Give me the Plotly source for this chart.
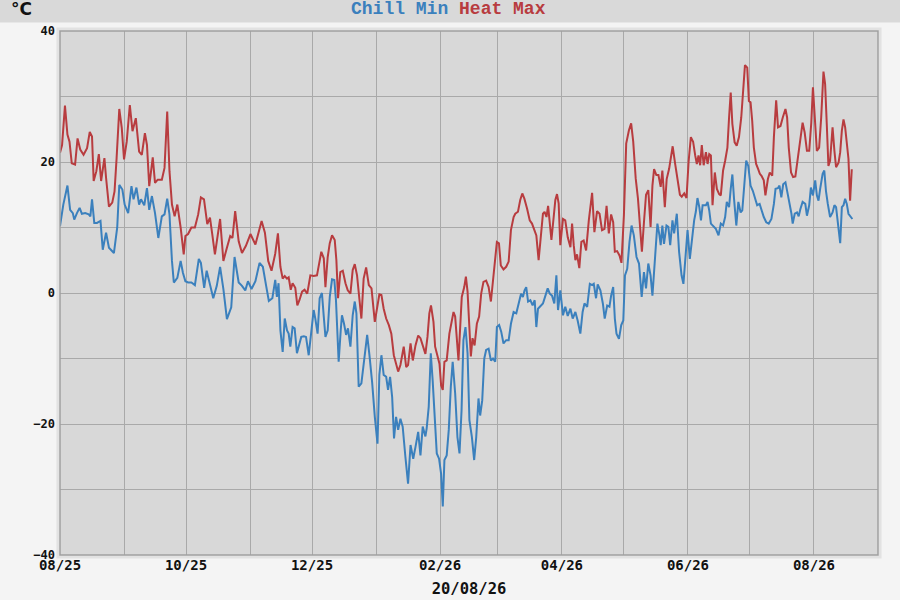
import pandas as pd
import plotly.graph_objects as go

# Day offsets from 1 Aug 2025
start = pd.Timestamp("2025-08-01")

heat_days = [
    0, 1.0, 2.4, 3.6, 4.6, 5.7, 7.3, 8.5, 9.8, 11.4, 13.1, 14.4, 15.5, 16.3, 17.6, 18.8, 19.9,
    21.5, 22.3, 23.7, 25.3, 26.4, 27.4, 28.7, 29.9, 31.0, 32.3, 33.8, 35.1, 36.7, 38.3, 39.6,
    41.1, 42.1, 43.2, 44.9, 46.0, 47.3, 49.3, 50.6, 51.9, 53.0, 54.2, 55.5, 56.8, 58.4, 59.9,
    60.7, 62.0, 63.6, 65.3, 66.9, 68.2, 69.7, 71.3, 72.6, 73.7, 75.0, 77.5, 79.1, 80.8, 82.4,
    83.5, 84.8, 86.5, 88.1, 90.0, 92.2, 94.6, 97.6, 99.2, 100.8, 102.4,
    104.2, 105.5, 106.7, 107.8, 108.8, 109.9, 110.7, 111.7, 112.6, 113.9, 114.9, 115.9, 117.2,
    118.4, 119.7, 121.2, 122.8, 124.4, 125.6, 126.5, 127.7, 128.5, 129.6, 130.6, 131.7, 133.0,
    133.8, 134.6, 135.7, 136.9, 138.2, 139.3, 140.6, 141.7, 142.7, 143.8, 144.9, 145.9, 147.0,
    148.2, 149.5, 150.8, 152.4, 153.5, 154.6, 155.6, 156.7, 157.9, 159.2, 160.4, 161.6, 162.7,
    163.7, 164.8, 166.4, 167.6, 168.5, 169.7, 170.8, 172.1, 173.4, 174.5, 175.6, 176.9,
    177.9, 178.8, 179.6, 180.8, 181.6, 182.7, 183.7, 184.5, 185.3, 186.1, 187.2, 188.5, 189.7,
    190.5, 191.3, 192.1, 192.9, 193.7, 194.5, 195.7, 196.5, 197.3, 198.2, 198.9, 199.7, 200.7,
    201.8, 202.9, 203.9, 205.0, 206.3, 207.5, 208.6, 209.6, 210.7, 211.5, 212.5, 213.4, 214.7,
    216.0, 217.2, 218.3, 219.6, 220.4, 221.7, 222.8, 223.8, 224.8, 226.1, 227.4, 228.5, 229.6,
    230.6, 231.7, 232.9, 233.8, 234.6, 235.5, 236.3, 237.1, 237.9, 239.0, 239.8, 240.6, 241.4,
    242.2, 243.5, 244.6, 245.8, 247.1, 247.9, 248.7, 249.5, 250.3, 251.4, 252.4, 253.5, 254.7,
    256.0, 257.6, 258.7, 260.0, 261.2, 262.4, 263.6, 264.6, 265.7, 266.8, 267.8, 268.6, 269.7,
    270.9, 271.8, 273.0, 274.1, 275.4, 276.5, 277.5, 278.7, 279.8, 280.8, 281.7, 282.7, 283.7,
    284.8, 285.9, 286.8, 287.6, 288.7, 289.7, 290.8, 291.6, 292.8, 293.7, 294.9, 295.7, 296.6,
    297.8, 298.9, 300.1, 301.0, 302.2, 303.3, 304.3, 305.4, 306.5, 307.5, 308.3, 309.1, 309.9,
    310.7, 311.6,
    312.7, 313.5, 314.3, 315.1, 315.9, 317.0, 318.0, 319.1, 319.9, 321.0, 322.0, 323.1, 323.9,
    324.7, 325.5, 326.6, 327.6, 328.7, 329.8, 330.8, 331.6, 332.7, 333.5, 334.3, 335.1, 335.9,
    337.0, 338.0, 338.8, 339.6, 340.7, 341.5, 342.7, 343.6, 344.8, 345.6, 346.7, 347.6, 348.8,
    349.9, 351.2, 352.0, 352.8, 353.9, 354.9, 356.0, 357.1, 358.4, 359.5, 360.5, 361.6, 362.7,
    363.7, 364.5, 365.3, 366.4, 367.5, 368.5, 369.6, 370.4, 371.2, 372.0, 372.8, 374.0, 374.9,
    375.7, 376.9, 377.7, 378.5, 379.3, 380.1, 380.9, 381.7, 382.5, 383.3,
]
heat_max = [
    21.4, 22.6, 28.6, 24.2, 23.1, 19.8, 19.6, 23.6, 21.9, 21.1, 22.1, 24.6, 23.9, 17.1, 18.6, 21.2, 17.1,
    20.6, 17.6, 13.2, 13.8, 15.5, 20.6, 28.1, 25.2, 20.4, 23.1, 28.7, 24.7, 26.7, 21.6, 21.1,
    24.4, 22.6, 16.3, 20.7, 16.8, 17.3, 17.3, 19.1, 27.7, 18.6, 13.5, 11.7, 13.5, 10.0, 5.9,
    8.7, 9.0, 10.0, 10.0, 12.0, 14.6, 14.3, 10.5, 11.5, 9.0, 5.9, 11.3, 4.9, 6.9, 8.7,
    8.4, 12.5, 7.9, 6.1, 7.2, 9.0, 7.4, 11.0, 9.2, 4.9, 3.4,
    6.0, 9.1, 4.0, 2.2, 2.6, 2.2, 2.4, 0.5, 1.5, 0.8, -1.9, -1.1, 0.2,
    0.5, -0.1, 2.7, 2.6, 2.7, 4.5, 6.3, 5.3, 0.9, 5.5, 7.6, 8.8, 8.1,
    5.0, -0.8, 3.2, 3.4, 1.5, 0.4, -0.1, 3.5, 4.4, 2.7, -0.8, -3.9, 2.2,
    3.9, 1.2, 0.7, -4.4, -2.6, -0.2, -0.3, -2.4, -3.9, -4.9, -6.2, -9.5, -10.8,
    -12.0, -11.0, -8.2, -11.3, -11.0, -7.7, -10.3, -8.0, -6.5, -6.9, -8.0, -9.3,
    -6.7, -3.1, -1.9, -4.4, -8.2, -9.7, -10.8, -14.1, -14.8, -10.5, -10.3, -6.2, -4.1,
    -2.9, -3.6, -6.7, -10.3, -5.4, -0.6, 0.9, 2.5, 0.2, -4.7, -9.7, -6.9, -8.0,
    -4.7, -3.6, -0.1, 1.7, 1.9, 0.9, -1.3, 1.7, 5.0, 7.8, 7.6, 4.2, 3.6,
    4.0, 4.8, 9.6, 11.6, 12.1, 12.4, 14.2, 15.2, 14.4, 12.9, 11.1, 10.6, 9.6,
    8.8, 5.0, 9.8, 12.1, 12.4, 11.6, 13.3, 10.9, 8.1, 11.6, 14.2, 15.1, 13.7,
    7.3, 11.3, 11.1, 8.5, 7.0, 10.6, 7.3, 5.0, 5.9, 3.8, 7.8, 8.0, 6.5,
    11.1, 15.3, 9.3, 12.5, 12.1, 9.6, 9.8, 13.3, 9.1, 12.0, 10.8, 6.3, 6.4,
    5.7, 4.6, 11.9, 22.8, 24.8, 25.9, 23.1, 17.5, 14.4, 10.3, 6.3, 10.8, 15.0,
    15.7, 10.1, 16.4, 18.9, 18.0, 18.0, 16.2, 18.7, 13.1, 17.4, 19.0, 20.5, 22.4,
    19.7, 17.7, 15.0, 14.7, 15.2, 14.5, 20.0, 23.8, 23.1, 21.0, 19.7, 21.0, 19.5,
    22.6, 19.5,
    21.5, 19.7, 21.2, 21.0, 13.4, 18.4, 15.9, 15.1, 14.9, 18.7, 20.2, 22.2, 26.8,
    30.6, 25.8, 23.0, 22.5, 23.8, 26.8, 31.9, 34.8, 34.4, 29.3, 29.1, 26.3, 22.2,
    19.7, 18.9, 18.2, 17.9, 17.2, 14.9, 17.4, 18.4, 17.9, 23.8, 29.4, 25.3, 25.5,
    26.8, 28.1, 26.8, 22.2, 18.4, 17.7, 17.8, 20.2, 23.5, 26.0, 24.5, 21.7, 21.7,
    26.0, 31.4, 27.8, 21.7, 22.2, 26.8, 33.8, 31.9, 25.8, 19.4, 20.2, 25.3, 21.7,
    19.2, 19.9, 21.5, 24.8, 26.5, 25.3, 22.2, 20.5, 14.1, 18.9,
]

chill_days = [
    0, 1.6, 3.6, 4.9, 6.2, 6.9, 8.2, 9.5, 10.6, 12.2, 13.9, 14.7, 15.5, 16.6, 17.9, 19.6, 20.7,
    22.3, 23.7, 26.1, 27.7, 28.7, 30.2, 31.3, 33.0, 34.6, 35.6, 37.0, 38.3, 39.2, 40.8, 42.1,
    43.2, 44.5, 46.0, 47.6, 49.3, 50.6, 51.9, 53.0, 54.2, 55.1, 56.8, 58.4, 59.5, 60.7, 62.0,
    63.6, 65.3, 67.2, 68.2, 69.8, 71.0, 72.6, 74.2, 75.9, 77.5, 79.1, 80.8, 82.9, 84.5, 86.5,
    88.1, 89.7, 91.0, 92.7, 94.6, 96.6, 98.2, 99.8, 101.1, 102.8,
    104.2, 105.0, 105.8, 106.7, 107.8, 108.8, 109.9, 110.7, 111.5, 112.6, 113.6, 114.7, 115.9,
    116.8, 118.1, 119.1, 120.4, 121.5, 122.8, 123.6, 124.7, 125.7, 126.8, 127.7, 128.5, 129.6,
    130.6, 131.7, 132.8, 133.6, 134.9, 135.9, 136.5, 137.5, 138.5, 139.4, 140.6, 141.7, 142.7,
    143.5, 144.6, 145.9, 147.0, 148.7, 149.8, 151.1, 152.4, 153.7, 154.6, 155.6, 156.7, 157.9,
    158.8, 159.8, 160.8, 161.7, 162.7, 163.7, 164.8, 165.9, 167.2, 168.5, 169.7, 171.0, 172.1,
    173.4, 174.5, 175.6, 176.9,
    177.5, 178.5, 179.5, 180.4, 181.4, 182.4, 183.5, 184.5, 185.3, 186.1, 187.2, 188.2, 189.2,
    190.1, 191.3, 192.4, 193.4, 194.4, 195.3, 196.3, 197.3, 198.2, 199.4, 200.5, 201.5, 202.6,
    203.4, 204.4, 205.4, 206.3, 207.5, 208.6, 209.6, 210.7, 211.5, 212.6, 213.6, 214.7, 216.0,
    217.2, 218.3, 219.6, 220.9, 222.0, 223.2, 224.1, 224.9, 225.7, 226.6, 227.7, 228.8, 229.8,
    230.6, 231.4, 232.5, 233.8, 235.0, 236.1, 237.1, 238.2, 239.3, 240.3, 241.1,
    242.2, 243.5, 244.6, 245.8, 247.1, 248.2, 249.5, 250.6, 251.9, 253.0, 253.9, 255.2, 256.5,
    257.6, 258.4, 259.5, 260.3, 261.6, 262.8, 263.7, 264.9, 266.0, 266.8, 267.8, 268.6, 269.4,
    270.6, 271.7, 272.7, 273.5, 274.6, 275.7, 276.7, 277.8, 279.1, 280.3, 281.6, 282.7, 283.7,
    284.8, 285.9, 286.8, 287.9, 289.2, 290.2, 290.8, 291.6, 292.4, 293.6, 294.5, 295.4, 296.5,
    297.3, 298.6, 299.7, 300.9, 301.8, 303.0, 303.8, 304.9, 305.9, 307.0, 307.8, 308.6, 309.5,
    310.3, 311.1,
    312.7, 313.5, 314.3, 315.1, 316.2, 317.5, 318.8, 319.9, 321.0, 322.0, 322.8, 323.9, 324.7,
    325.5, 326.3, 327.4, 328.4, 329.5, 330.3, 331.4, 332.2, 333.2, 334.3, 335.4, 336.7, 337.5,
    338.7, 339.6, 340.7, 341.9, 343.1, 344.4, 345.6, 346.4, 347.5, 348.3, 349.2, 350.1, 351.2,
    352.3, 353.1, 354.1, 354.7, 355.7, 356.8, 357.6, 358.4, 359.5, 360.8, 361.6, 362.7, 363.5,
    364.5, 365.6, 366.4, 367.2, 368.0, 369.2, 370.0, 370.8, 371.7, 372.8, 374.0, 374.9, 375.7,
    376.5, 377.7, 378.5, 379.3, 380.1, 380.9, 381.7, 382.8, 383.6,
]
chill_min = [
    10.2, 13.5, 16.4, 12.7, 12.2, 11.2, 12.2, 13.0, 12.1, 12.2, 12.0, 11.7, 14.3, 10.7, 10.7, 11.0, 6.6,
    9.2, 6.9, 6.1, 10.0, 16.5, 15.8, 13.5, 12.2, 16.3, 14.3, 16.1, 13.5, 14.3, 13.4, 16.0,
    12.7, 14.8, 12.2, 8.4, 11.7, 12.0, 14.4, 12.0, 4.9, 1.6, 2.3, 4.9, 3.1, 1.8, 1.6,
    1.6, 1.2, 5.2, 4.6, 0.8, 3.4, 1.4, -0.8, 1.1, 4.0, 0.6, -4.0, -2.2, 5.5, 1.6,
    1.1, 0.4, 1.8, 0.6, 1.8, 4.6, 4.0, 1.1, -1.2, -0.8,
    2.0, -0.6, 1.5, -5.7, -9.0, -3.9, -5.7, -6.2, -8.2, -5.2, -5.4, -9.2, -7.5,
    -6.7, -6.6, -6.7, -9.5, -5.9, -2.6, -3.9, -6.2, -0.8, 0.0, -3.6, -6.7, -5.7,
    -0.6, 2.1, 2.0, -1.1, -10.5, -5.7, -3.4, -4.7, -6.4, -5.4, -8.2, -3.4, -1.3,
    -3.1, -14.3, -13.8, -10.8, -6.4, -9.5, -13.6, -18.9, -23.0, -12.5, -9.5, -12.5, -12.8,
    -14.8, -12.8, -15.9, -22.2, -18.9, -20.9, -19.2, -20.4, -25.0, -29.1, -23.2, -25.3, -23.5,
    -21.2, -24.8, -20.4, -21.9,
    -20.7, -17.4, -9.2, -13.3, -19.4, -24.5, -25.3, -27.6, -32.6, -25.5, -24.8, -20.9, -14.3,
    -10.5, -15.3, -22.0, -24.5, -17.9, -7.2, -5.2, -9.2, -19.4, -22.0, -25.5, -22.0, -16.1,
    -18.7, -16.4, -10.0, -8.7, -8.5, -10.3, -10.0, -10.5, -5.2, -4.9, -5.9, -7.7, -7.2,
    -7.2, -4.7, -2.9, -3.1, -1.6, -0.1, -0.6, 0.4, 0.9, -1.3, -1.1, -1.9, -1.1,
    -5.2, -2.4, -2.0, -1.6, -0.4, 0.7, -0.1, -0.4, -1.6, 2.7, -2.6,
    0.4, -3.4, -2.1, -3.5, -2.4, -3.9, -2.9, -4.2, -6.2, -2.9, -1.6, -2.1, 1.4,
    1.2, 1.4, -0.8, 1.3, 0.4, -1.6, -3.9, -1.9, -2.1, -0.4, 0.9, -3.9, -6.2,
    -7.0, -4.9, -4.2, 2.7, 3.7, 7.8, 10.3, 8.8, 5.5, 4.5, -0.6, 3.2, 0.7,
    4.5, 2.7, -0.4, 4.2, 10.6, 8.8, 7.3, 10.3, 7.5, 10.3, 10.1, 7.3, 11.1,
    9.1, 12.1, 6.3, 2.7, 1.4, 6.0, 9.6, 5.2, 8.5, 11.1, 12.4, 14.5, 13.1,
    11.1, 13.4,
    13.4, 13.9, 12.6, 10.6, 10.3, 9.8, 8.8, 10.6, 10.3, 11.6, 13.9, 13.1, 15.9,
    18.1, 14.4, 10.3, 13.9, 12.3, 12.6, 16.6, 20.2, 19.4, 16.4, 15.6, 14.4, 13.4,
    13.6, 12.6, 11.6, 10.8, 10.6, 11.3, 13.6, 15.9, 16.0, 16.4, 14.6, 16.6, 16.9,
    15.1, 13.9, 12.1, 10.6, 12.1, 12.3, 11.7, 12.8, 13.9, 13.6, 11.8, 13.4, 16.1,
    14.9, 17.2, 14.9, 14.1, 15.9, 18.2, 18.7, 15.6, 13.6, 11.6, 12.3, 13.4, 13.1,
    10.6, 7.6, 13.1, 13.4, 14.4, 13.6, 12.1, 11.6, 11.3,
]

heat_dates = start + pd.to_timedelta(heat_days, unit="D")
chill_dates = start + pd.to_timedelta(chill_days, unit="D")

red = "#b83c3f"
blue = "#3b80bd"
grid = "#a9a9a9"
mono = "DejaVu Sans Mono"
ytick_font = dict(family=mono, size=12, color="#111111", weight="bold")
xtick_font = dict(family=mono, size=14, color="#111111", weight="bold")

fig = go.Figure()
fig.add_trace(go.Scatter(x=chill_dates, y=chill_min, mode="lines", name="Chill Min",
                         line=dict(color=blue, width=2)))
fig.add_trace(go.Scatter(x=heat_dates, y=heat_max, mode="lines", name="Heat Max",
                         line=dict(color=red, width=2)))

fig.update_layout(
    width=900, height=600,
    margin=dict(l=60, r=22, t=31, b=45, autoexpand=False),
    paper_bgcolor="#f4f4f4",
    plot_bgcolor="#d8d8d8",
    showlegend=False,
    xaxis=dict(
        range=["2025-08-01", "2026-09-01"],
        tick0="2025-08-01", dtick="M2", tickformat="%m/%y",
        showgrid=True, gridcolor=grid, gridwidth=1,
        minor=dict(dtick="M1", showgrid=True, gridcolor=grid, gridwidth=1),
        tickfont=xtick_font, ticks="", zeroline=False, showline=False, automargin=False,
        title=dict(text="20/08/26", font=dict(family=mono, size=15.5, color="#111111",
                                              weight="bold"), standoff=11),
    ),
    yaxis=dict(
        range=[-40, 40], dtick=20, tick0=0,
        showgrid=True, gridcolor=grid, gridwidth=1,
        minor=dict(dtick=10, showgrid=True, gridcolor=grid, gridwidth=1),
        tickfont=ytick_font, ticks="", ticklabelstandoff=4,
        zeroline=False, showline=False, automargin=False,
    ),
    shapes=[
        # header band
        dict(type="rect", xref="paper", yref="paper", x0=-0.08, x1=1.03,
             y0=1.016, y1=1.07, fillcolor="#d9d9d9", line_width=0, layer="below"),
        # light frame around the plot
        dict(type="rect", xref="paper", yref="paper", x0=-0.0025, x1=1.0025,
             y0=-0.004, y1=1.004, line=dict(color="#e2e2e2", width=3), layer="above"),
        # plot border
        dict(type="rect", xref="paper", yref="paper", x0=0, x1=1, y0=0, y1=1,
             line=dict(color="#a0a0a0", width=1.5), layer="above"),
    ],
    annotations=[
        dict(text="<b>°C</b>", xref="paper", yref="paper", x=-0.0627, y=1.042,
             xanchor="left", yanchor="middle", showarrow=False,
             font=dict(family="DejaVu Sans", size=17, color="#111111")),
        dict(text=f"<b><span style='color:{blue}'>Chill Min</span> "
                  f"<span style='color:{red}'>Heat Max</span></b>",
             xref="paper", yref="paper", x=0.4744, y=1.042,
             xanchor="center", yanchor="middle", showarrow=False,
             font=dict(family="Liberation Mono", size=18)),
    ],
)

# the page body has a default margin; drop it so the figure fills the window
fig.write_html("out.html", config={"displayModeBar": False},
               post_script="document.body.style.margin='0';")
